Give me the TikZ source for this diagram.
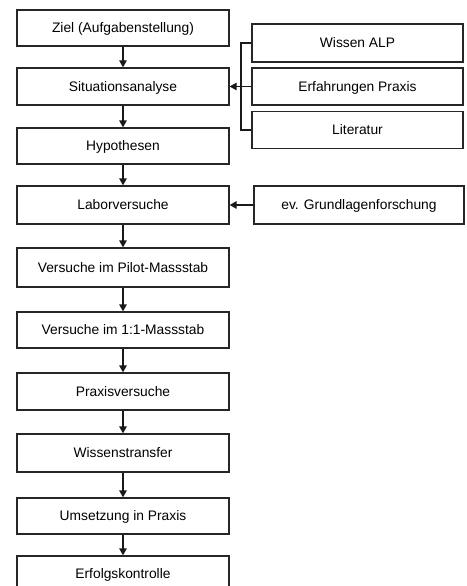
\documentclass[tikz,border=0pt]{standalone}
\usepackage{fontspec}
\setmainfont{Liberation Sans}
\usetikzlibrary{arrows.meta}
\begin{document}
\begin{tikzpicture}[x=1pt,y=-1pt,
  box/.style={draw=black!85,line width=1.3pt,fill=white,inner sep=0pt,text depth=1pt,font=\fontsize{13.8}{16}\selectfont},
  conn/.style={draw=black!90,line width=1.3pt},
  arr/.style={conn,-{Triangle[length=7pt,width=7.5pt]}}]
\useasboundingbox (0,0) rectangle (466,586);
\begin{scope}
\clip (0,0) rectangle (466,586);
\node[box,minimum width=212pt,minimum height=36pt] (ziel) at (123,28) {Ziel (Aufgabenstellung)};
\node[box,minimum width=212pt,minimum height=37pt] (sit) at (123,86.5) {Situationsanalyse};
\node[box,minimum width=212pt,minimum height=36pt] (hyp) at (123,146) {Hypothesen};
\node[box,minimum width=212pt,minimum height=38pt] (lab) at (123,205) {Laborversuche};
\node[box,minimum width=212pt,minimum height=39pt] (pil) at (123,267.5) {Versuche im Pilot-Massstab};
\node[box,minimum width=212pt,minimum height=36pt] (eins) at (123,330) {Versuche im 1:1-Massstab};
\node[box,minimum width=212pt,minimum height=37pt] (prax) at (123,391.5) {Praxisversuche};
\node[box,minimum width=212pt,minimum height=38pt] (wiss) at (123,453) {Wissenstransfer};
\node[box,minimum width=212pt,minimum height=36pt] (ums) at (123,516) {Umsetzung in Praxis};
\node[box,minimum width=212pt,minimum height=36pt] (erf) at (123,574) {Erfolgskontrolle};
\node[box,minimum width=211pt,minimum height=38pt] (alp) at (357.5,43) {Wissen ALP};
\node[box,minimum width=211pt,minimum height=37pt] (efp) at (357.5,86.5) {Erfahrungen Praxis};
\node[box,minimum width=211pt,minimum height=37pt] (lit) at (357.5,130) {Literatur};
\node[box,minimum width=210pt,minimum height=38pt] (grf) at (359,205) {ev. Grundlagenforschung};
\end{scope}
\draw[arr] (ziel) -- (sit);
\draw[arr] (sit) -- (hyp);
\draw[arr] (hyp) -- (lab);
\draw[arr] (lab) -- (pil);
\draw[arr] (pil) -- (eins);
\draw[arr] (eins) -- (prax);
\draw[arr] (prax) -- (wiss);
\draw[arr] (wiss) -- (ums);
\draw[arr] (ums) -- (erf);
\coordinate (bt) at (241,43);
\coordinate (bb) at (241,130);
\draw[conn] (alp.west) -- (bt) -- (bb) -- (lit.west);
\draw[arr] (efp.west) -- (sit.east);
\draw[arr] (grf.west) -- (lab.east);
\end{tikzpicture}
\end{document}
